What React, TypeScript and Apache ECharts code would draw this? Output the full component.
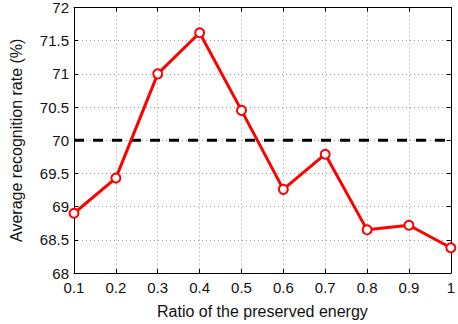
import React, { useEffect, useRef } from "react";
import * as echarts from "echarts";

const ratios = [0.1, 0.2, 0.3, 0.4, 0.5, 0.6, 0.7, 0.8, 0.9, 1.0];
const rates = [68.9, 69.43, 71.0, 71.62, 70.45, 69.26, 69.79, 68.65, 68.72, 68.38];
const baselineX = [0.1, 1.0];
const baselineY = [70, 70];
const xAxisName = "Ratio of the preserved energy";
const yAxisName = "Average recognition rate (%)";

export default function App() {
  const ref = useRef<HTMLDivElement>(null);
  useEffect(() => {
    const chart = echarts.init(ref.current!, null, { renderer: "svg" });
    const font = "Liberation Sans, Arial, Helvetica, sans-serif";
    const gridLine = { show: true, lineStyle: { color: "#999", type: [1, 3] as any, width: 1 } };
    chart.setOption({
      animation: false,
      grid: { left: 72, right: 6, top: 6, bottom: 45, containLabel: false },
      xAxis: [
        {
          type: "value",
          min: 0.1,
          max: 1,
          interval: 0.1,
          name: xAxisName,
          nameLocation: "middle",
          nameGap: 30,
          nameTextStyle: { fontFamily: font, fontSize: 16, color: "#111" },
          axisLine: { show: true, onZero: false, lineStyle: { color: "#000", width: 1 } },
          axisTick: { show: true, inside: true, length: 4, lineStyle: { color: "#000" } },
          axisLabel: {
            fontFamily: font,
            fontSize: 15,
            color: "#111",
            margin: 7,
            formatter: (v: number) => (Math.abs(v - 1) < 1e-9 ? "1" : v.toFixed(1)),
          },
          splitLine: gridLine,
        },
        {
          type: "value",
          position: "top",
          min: 0.1,
          max: 1,
          interval: 0.1,
          axisLine: { show: true, onZero: false, lineStyle: { color: "#000", width: 1 } },
          axisTick: { show: true, inside: true, length: 4, lineStyle: { color: "#000" } },
          axisLabel: { show: false },
          splitLine: { show: false },
        },
      ],
      yAxis: [
        {
          type: "value",
          min: 68,
          max: 72,
          interval: 0.5,
          name: yAxisName,
          nameLocation: "middle",
          nameGap: 50,
          nameTextStyle: { fontFamily: font, fontSize: 16, color: "#111" },
          axisLine: { show: true, onZero: false, lineStyle: { color: "#000", width: 1 } },
          axisTick: { show: true, inside: true, length: 4, lineStyle: { color: "#000" } },
          axisLabel: {
            fontFamily: font,
            fontSize: 15,
            color: "#111",
            margin: 5,
            formatter: (v: number) => String(v),
          },
          splitLine: gridLine,
        },
        {
          type: "value",
          position: "right",
          min: 68,
          max: 72,
          interval: 0.5,
          axisLine: { show: true, onZero: false, lineStyle: { color: "#000", width: 1 } },
          axisTick: { show: true, inside: true, length: 4, lineStyle: { color: "#000" } },
          axisLabel: { show: false },
          splitLine: { show: false },
        },
      ],
      series: [
        {
          type: "line",
          data: baselineX.map((x, i) => [x, baselineY[i]]),
          symbol: "none",
          lineStyle: { color: "#000", width: 3, type: [10, 9] as any },
          silent: true,
          z: 2,
        },
        {
          type: "line",
          data: ratios.map((x, i) => [x, rates[i]]),
          symbol: "circle",
          symbolSize: 9,
          lineStyle: { color: "#ff0000", width: 3 },
          itemStyle: { color: "#fff", borderColor: "#ff0000", borderWidth: 2 },
          z: 3,
        },
      ],
    });
    return () => chart.dispose();
  }, []);
  return (
    <div
      ref={ref}
      style={{ position: "fixed", left: 0, top: 0, width: 458, height: 324, background: "#fff" }}
    />
  );
}
